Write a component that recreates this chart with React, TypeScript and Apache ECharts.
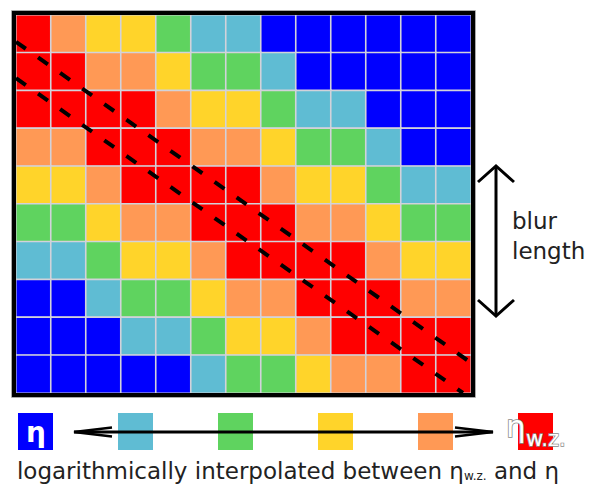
import React, { useEffect, useRef } from "react";
import * as echarts from "echarts";

// interpolation level per cell: 0 = η ... 5 = η_w.z.
const row0 = [5, 4, 3, 3, 2, 1, 1, 0, 0, 0, 0, 0, 0];
const row1 = [5, 5, 4, 4, 3, 2, 2, 1, 0, 0, 0, 0, 0];
const row2 = [5, 5, 5, 5, 4, 3, 3, 2, 1, 1, 0, 0, 0];
const row3 = [4, 4, 5, 5, 5, 4, 4, 3, 2, 2, 1, 0, 0];
const row4 = [3, 3, 4, 5, 5, 5, 5, 4, 3, 3, 2, 1, 1];
const row5 = [2, 2, 3, 4, 4, 5, 5, 5, 4, 4, 3, 2, 2];
const row6 = [1, 1, 2, 3, 3, 4, 5, 5, 5, 5, 4, 3, 3];
const row7 = [0, 0, 1, 2, 2, 3, 4, 4, 5, 5, 5, 4, 4];
const row8 = [0, 0, 0, 1, 1, 2, 3, 3, 4, 5, 5, 5, 5];
const row9 = [0, 0, 0, 0, 0, 1, 2, 2, 3, 4, 4, 5, 5];
const rows = [row0, row1, row2, row3, row4, row5, row6, row7, row8, row9];

const columns = row0.map((_, i) => String(i));
const rowNames = rows.map((_, i) => String(i));

const levelColors = ["#0000ff", "#5fbcd3", "#5fd35f", "#ffd42a", "#ff9955", "#ff0000"];

// dashed diagonal guides, in cell units (x: columns, y: rows from top)
const guideUpper = [[0, 0.71], [13, 9.2]];
const guideLower = [[0, 1.67], [12.77, 10]];

export default function App() {
  const ref = useRef<HTMLDivElement>(null);
  useEffect(() => {
    if (!ref.current) return;
    const chart = echarts.init(ref.current, null, { renderer: "svg" });
    const heat: number[][] = [];
    rows.forEach((r, y) => r.forEach((v, x) => heat.push([x, y, v])));
    const font = "DejaVu Sans";
    const txt = "#222";
    chart.setOption({
      animation: false,
      grid: [
        { left: 16, top: 15, width: 455, height: 378 },
        { left: 16, top: 15, width: 455, height: 378 },
      ],
      xAxis: [
        { type: "category", data: columns, gridIndex: 0, show: false },
        { type: "value", min: 0, max: 13, gridIndex: 1, show: false },
      ],
      yAxis: [
        { type: "category", data: rowNames, gridIndex: 0, inverse: true, show: false },
        { type: "value", min: 0, max: 10, gridIndex: 1, inverse: true, show: false },
      ],
      visualMap: {
        type: "piecewise",
        dimension: 2,
        seriesIndex: 0,
        pieces: levelColors.map((c, i) => ({ value: i, color: c })),
        orient: "horizontal",
        left: 18,
        top: 413,
        itemWidth: 35,
        itemHeight: 37,
        itemGap: 65,
        itemSymbol: "rect",
        showLabel: false,
        selectedMode: false,
        hoverLink: false,
        padding: 0,
      },
      series: [
        {
          type: "heatmap",
          xAxisIndex: 0,
          yAxisIndex: 0,
          data: heat,
          itemStyle: { borderColor: "#d2d2da", borderWidth: 1.6 },
          emphasis: { disabled: true },
        },
        {
          type: "line",
          xAxisIndex: 1,
          yAxisIndex: 1,
          data: guideUpper,
          symbol: "none",
          lineStyle: { color: "#000", width: 4, type: [12, 15] },
          z: 5,
        },
        {
          type: "line",
          xAxisIndex: 1,
          yAxisIndex: 1,
          data: guideLower,
          symbol: "none",
          lineStyle: { color: "#000", width: 4, type: [12, 15] },
          z: 5,
        },
      ],
      graphic: [
        {
          type: "rect",
          shape: { x: 14, y: 13, width: 459, height: 382 },
          style: { fill: "none", stroke: "#000", lineWidth: 4 },
          z: 10,
        },
        {
          type: "rect",
          shape: { x: 11.5, y: 10.5, width: 464, height: 387 },
          style: { fill: "none", stroke: "#aaa", lineWidth: 1 },
          z: 10,
        },
        // vertical double arrow
        { type: "line", shape: { x1: 496, y1: 166, x2: 496, y2: 315 }, style: { stroke: "#000", lineWidth: 3 }, z: 10 },
        { type: "polyline", shape: { points: [[478, 182], [496, 166], [514, 182]] }, style: { stroke: "#000", lineWidth: 3, fill: "none" }, z: 10 },
        { type: "polyline", shape: { points: [[478, 300], [496, 316], [514, 300]] }, style: { stroke: "#000", lineWidth: 3, fill: "none" }, z: 10 },
        { type: "text", x: 512, y: 209, style: { text: "blur", font: `23px '${font}'`, fill: txt, verticalAlign: "top" }, z: 10 },
        { type: "text", x: 512, y: 239, style: { text: "length", font: `23px '${font}'`, fill: txt, verticalAlign: "top" }, z: 10 },
        // horizontal double arrow
        { type: "line", shape: { x1: 74, y1: 432, x2: 493, y2: 432 }, style: { stroke: "#000", lineWidth: 3 }, z: 20 },
        { type: "polyline", shape: { points: [[112, 427.5], [74, 432], [112, 436.5]] }, style: { stroke: "#000", lineWidth: 2.5, fill: "none" }, z: 20 },
        { type: "polyline", shape: { points: [[455, 427.5], [493, 432], [455, 436.5]] }, style: { stroke: "#000", lineWidth: 2.5, fill: "none" }, z: 20 },
        // η on blue box
        { type: "text", x: 36, y: 432, style: { text: "η", font: `bold 28px '${font}'`, fill: "#fff", align: "center", verticalAlign: "middle" }, z: 20 },
        // η_w.z. on red box
        { type: "text", x: 506, y: 410, style: { text: "η", font: `31px '${font}'`, fill: "#fff", stroke: "#8a8a8a", lineWidth: 1.6, verticalAlign: "top" }, z: 20 },
        { type: "text", x: 526, y: 428, style: { text: "w.z.", font: `21px '${font}'`, fill: "#fff", stroke: "#8a8a8a", lineWidth: 1.4, verticalAlign: "top" }, z: 20 },
        // caption
        {
          type: "text",
          x: 288,
          y: 459,
          style: {
            text: "{a|logarithmically interpolated between η}{s|w.z.}{a| and η}",
            align: "center",
            verticalAlign: "top",
            rich: {
              a: { font: `23px '${font}'`, fill: txt, lineHeight: 23, verticalAlign: "top" },
              s: { font: `12px '${font}'`, fill: txt, lineHeight: 4, verticalAlign: "bottom" },
            },
          },
          z: 20,
        },
      ],
    });
    return () => chart.dispose();
  }, []);
  return <div ref={ref} style={{ width: 589, height: 488, position: "absolute", left: 0, top: 0 }} />;
}
